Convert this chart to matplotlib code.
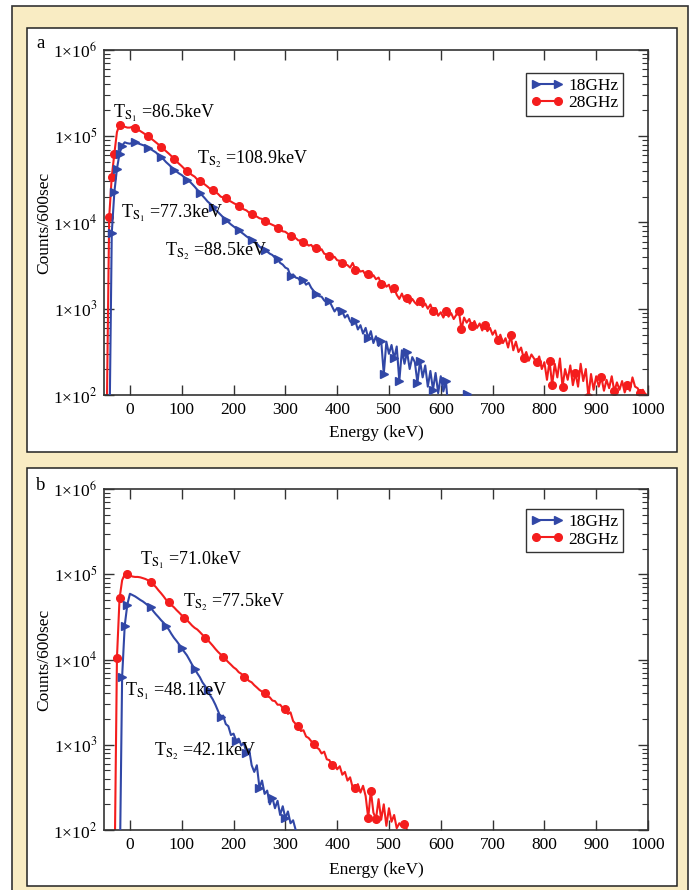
import numpy as np
import matplotlib.pyplot as plt
from matplotlib.patches import Rectangle
from matplotlib.ticker import FixedLocator, FuncFormatter, LogLocator, NullLocator

plt.rcParams['font.family'] = ['Liberation Serif', 'DejaVu Serif']
plt.rcParams['mathtext.fontset'] = 'stix'

BLUE = '#3147a6'
RED = '#f41d1d'
BEIGE = '#f9ecc3'

# panel a: spectra, 5 keV bins
ea_18 = np.arange(-40, 651, 5)
ca_18 = [20, 7.6e3, 2.25e4, 4.2e4, 6.3e4, 7.8e4, 8.5e4, 8.3e4, 8.2e4, 8.4e4,
         8.5e4, 8.3e4, 8.1e4, 7.9e4, 7.7e4, 7.4e4, 7.1e4, 6.8e4, 6.5e4, 6.1e4,
         5.75e4, 5.4e4, 5.0e4, 4.7e4, 4.4e4, 4.1e4, 3.9e4, 3.7e4, 3.55e4, 3.35e4,
         3.15e4, 3.0e4, 2.8e4, 2.6e4, 2.4e4, 2.2e4, 2.05e4, 1.9e4, 1.75e4, 1.65e4,
         1.5e4, 1.4e4, 1.32e4, 1.23e4, 1.15e4, 1.08e4, 1.01e4, 9.5e3, 9.0e3, 8.5e3,
         8.1e3, 7.7e3, 7.3e3, 6.9e3, 6.6e3, 6.2e3, 5.9e3, 5.7e3, 5.25e3, 5.0e3,
         4.8e3, 4.6e3, 4.35e3, 4.2e3, 3.9e3, 3.8e3, 3.4e3, 3.25e3, 3.0e3, 2.9e3,
         2.4e3, 2.5e3, 2.3e3, 2.25e3, 2.05e3, 2.15e3, 1.9e3, 2.0e3, 1.75e3, 1.6e3,
         1.5e3, 1.4e3, 1.38e3, 1.25e3, 1.18e3, 1.23e3, 1.07e3, 930, 1.02e3, 870,
         930, 790, 850, 720, 660, 720, 575, 645, 515, 600,
         455, 550, 400, 480, 370, 425, 175, 415, 300, 380,
         265, 365, 145, 330, 230, 315, 200, 275, 240, 138,
         250, 160, 220, 125, 190, 115, 180, 105, 165, 110,
         145, 63, 40, 30, 30, 30, 30, 30, 102]
ma_18 = sorted(set([1, 2, 3, 4, 5] + list(range(10, 131, 5)) + [106, 112, 119, 138]))

ea_28 = np.arange(-45, 1001, 5)
ca_28 = [40, 1.15e4, 3.4e4, 6.3e4, 1.12e5, 1.35e5, 1.32e5, 1.29e5, 1.26e5, 1.26e5,
         1.29e5, 1.26e5, 1.2e5, 1.15e5, 1.1e5, 1.05e5, 1.0e5, 9.5e4, 9.0e4, 8.5e4,
         8.0e4, 7.6e4, 7.1e4, 6.7e4, 6.3e4, 5.9e4, 5.5e4, 5.1e4, 4.8e4, 4.5e4,
         4.2e4, 4.0e4, 3.75e4, 3.55e4, 3.4e4, 3.15e4, 3.0e4, 2.9e4, 2.75e4, 2.6e4,
         2.45e4, 2.35e4, 2.25e4, 2.15e4, 2.0e4, 1.95e4, 1.9e4, 1.8e4, 1.75e4, 1.68e4,
         1.62e4, 1.55e4, 1.48e4, 1.42e4, 1.38e4, 1.3e4, 1.26e4, 1.2e4, 1.17e4, 1.12e4,
         1.1e4, 1.05e4, 1.02e4, 9.7e3, 9.4e3, 9.1e3, 8.7e3, 8.4e3, 7.9e3, 7.8e3,
         7.4e3, 7.0e3, 6.8e3, 6.6e3, 6.2e3, 6.2e3, 5.9e3, 5.75e3, 5.4e3, 5.5e3,
         5.0e3, 5.0e3, 4.7e3, 4.9e3, 4.35e3, 4.25e3, 4.1e3, 3.9e3, 4.0e3, 3.65e3,
         3.6e3, 3.4e3, 3.3e3, 3.2e3, 3.0e3, 3.4e3, 2.85e3, 2.9e3, 2.7e3, 2.75e3,
         2.45e3, 2.55e3, 2.3e3, 2.45e3, 2.2e3, 2.3e3, 1.95e3, 2.05e3, 1.8e3, 1.9e3,
         1.55e3, 1.75e3, 1.45e3, 1.3e3, 1.5e3, 1.25e3, 1.35e3, 1.15e3, 1.3e3, 1.18e3,
         1.1e3, 1.23e3, 1.05e3, 1.15e3, 1.0e3, 1.12e3, 930, 1.02e3, 830, 910,
         790, 930, 810, 890, 760, 850, 930, 575, 790, 690,
         760, 630, 720, 600, 675, 560, 645, 550, 600, 500,
         560, 435, 500, 400, 455, 355, 490, 330, 415, 315,
         355, 270, 315, 250, 295, 265, 240, 280, 200, 240,
         150, 250, 130, 230, 160, 265, 125, 200, 150, 220,
         130, 180, 125, 230, 145, 200, 95, 175, 115, 165,
         125, 160, 112, 150, 120, 165, 110, 140, 115, 145,
         107, 130, 112, 160, 125, 120, 105, 115, 102, 100]
ma_28 = sorted(set([1, 2, 3, 5] + list(range(11, 210, 5)) + [137, 172, 176, 186]))

# panel b
eb_18 = np.arange(-20, 321, 5)
cb_18 = [20, 6.3e3, 2.5e4, 4.4e4, 5.9e4, 5.7e4, 5.5e4, 5.25e4, 5.0e4, 4.8e4,
         4.55e4, 4.3e4, 4.1e4, 3.7e4, 3.4e4, 3.15e4, 2.9e4, 2.7e4, 2.45e4, 2.25e4,
         2.0e4, 1.8e4, 1.65e4, 1.5e4, 1.35e4, 1.23e4, 1.12e4, 9.9e3, 8.7e3, 7.8e3,
         6.9e3, 6.2e3, 5.4e3, 4.9e3, 4.35e3, 3.8e3, 3.4e3, 2.95e3, 2.5e3, 2.1e3,
         2.2e3, 1.75e3, 1.65e3, 1.3e3, 1.35e3, 1.12e3, 1.18e3, 980, 1.05e3, 790,
         890, 575, 480, 575, 315, 380, 265, 290, 200, 240,
         180, 220, 150, 190, 138, 165, 120, 130, 100]
mb_18 = [1, 2, 3, 12, 18, 24, 29, 34, 39, 45, 49, 54, 59, 64]

eb_28 = np.arange(-30, 536, 5)
cb_28 = [20, 1.05e4, 5.2e4, 8.5e4, 1.0e5, 1.02e5, 9.7e4, 9.4e4, 9.3e4, 9.3e4,
         9.2e4, 9.0e4, 8.8e4, 8.5e4, 8.1e4, 7.6e4, 7.1e4, 6.5e4, 6.0e4, 5.5e4,
         5.0e4, 4.7e4, 4.35e4, 4.1e4, 3.8e4, 3.55e4, 3.3e4, 3.1e4, 2.9e4, 2.7e4,
         2.5e4, 2.35e4, 2.25e4, 2.1e4, 1.95e4, 1.8e4, 1.7e4, 1.57e4, 1.45e4, 1.33e4,
         1.23e4, 1.15e4, 1.07e4, 1.0e4, 9.3e3, 8.7e3, 8.1e3, 7.7e3, 7.1e3, 6.8e3,
         6.3e3, 6.0e3, 5.6e3, 5.4e3, 5.0e3, 4.7e3, 4.4e3, 4.2e3, 4.0e3, 3.7e3,
         3.6e3, 3.3e3, 3.25e3, 2.95e3, 2.95e3, 2.7e3, 2.65e3, 2.3e3, 2.4e3, 1.9e3,
         1.75e3, 1.65e3, 1.45e3, 1.48e3, 1.25e3, 1.2e3, 1.1e3, 1.02e3, 930, 890,
         790, 830, 675, 660, 575, 615, 515, 560, 445, 480,
         380, 415, 315, 310, 345, 275, 330, 250, 138, 290,
         160, 135, 230, 132, 200, 112, 180, 125, 150, 105,
         120, 110, 118, 100]
mb_28 = [1, 2, 5, 14, 21, 27, 35, 42, 50, 58, 66, 71, 77, 84, 93, 98, 99, 101, 112]

# fitted temperatures: (text, energy, counts)
labels_a = [(r'T$_{\mathrm{S}_1}$ =86.5keV', -32, 1.64e5),
            (r'T$_{\mathrm{S}_2}$ =108.9keV', 129, 4.8e4),
            (r'T$_{\mathrm{S}_1}$ =77.3keV', -17, 1.14e4),
            (r'T$_{\mathrm{S}_2}$ =88.5keV', 68, 4.07e3)]
labels_b = [(r'T$_{\mathrm{S}_1}$ =71.0keV', 20, 1.27e5),
            (r'T$_{\mathrm{S}_2}$ =77.5keV', 103, 4.17e4),
            (r'T$_{\mathrm{S}_1}$ =48.1keV', -10, 3.7e3),
            (r'T$_{\mathrm{S}_2}$ =42.1keV', 46, 733)]

W, H = 692, 890
fig = plt.figure(figsize=(W / 100, H / 100), dpi=100)
fig.patch.set_facecolor('white')


def px_rect(x0, y0, x1, y1, **kw):
    return Rectangle((x0 / W, 1 - y1 / H), (x1 - x0) / W, (y1 - y0) / H,
                     transform=fig.transFigure, **kw)


fig.add_artist(px_rect(12, 6, 688, 900, facecolor=BEIGE, edgecolor='#333333', lw=1.2, zorder=0))
fig.add_artist(px_rect(26.5, 28, 676.5, 452.5, facecolor='white', edgecolor='#222222', lw=1.1, zorder=0))
fig.add_artist(px_rect(26.5, 467.5, 676.5, 886, facecolor='white', edgecolor='#222222', lw=1.1, zorder=0))


def draw_panel(ax, e18, c18, m18, e28, c28, m28, labels, legend_y, xlabel_y):
    ax.plot(e18, c18, color=BLUE, lw=1.5, marker='>', ms=6, mec=BLUE, mfc=BLUE,
            markevery=m18, label='18GHz', zorder=3)
    ax.plot(e28, c28, color=RED, lw=1.5, marker='o', ms=5.5, mec=RED, mfc=RED,
            markevery=m28, label='28GHz', zorder=2)
    ax.set_yscale('log')
    ax.set_xlim(-50, 1000)
    ax.set_ylim(1e2, 1e6)
    ax.set_facecolor('none')

    ax.xaxis.set_major_locator(FixedLocator(np.arange(0, 1001, 100)))
    ax.xaxis.set_minor_locator(NullLocator())
    ax.yaxis.set_major_locator(LogLocator(base=10, numticks=10))
    ax.yaxis.set_minor_locator(LogLocator(base=10, subs=np.arange(2, 10), numticks=10))
    ax.yaxis.set_major_formatter(FuncFormatter(lambda v, p: '1×10$^{%d}$' % round(np.log10(v))))
    ax.tick_params(which='both', direction='in', top=True, right=True, labelsize=12.5,
                   color='#333333')
    ax.tick_params(which='major', length=7, width=1.0, pad=5)
    ax.tick_params(which='minor', length=4, width=0.8)
    for s in ax.spines.values():
        s.set_linewidth(1.2)
        s.set_color('#333333')

    ax.set_xlabel('Energy (keV)', fontsize=12.5)
    ax.set_ylabel('Counts/600sec', fontsize=12.5)
    ax.xaxis.set_label_coords(0.5, xlabel_y)
    ax.yaxis.set_label_coords(-0.096, 0.5)

    for txt, x, y in labels:
        ax.text(x, y, txt, fontsize=13, ha='left', va='baseline', zorder=4)

    leg = ax.legend(loc='upper right', bbox_to_anchor=(0.954, legend_y), borderaxespad=0,
                    fontsize=12.5, numpoints=2, handlelength=1.9, handletextpad=0.3,
                    borderpad=0.25, labelspacing=0.1, fancybox=False, framealpha=1,
                    edgecolor='#333333')
    leg.get_frame().set_linewidth(1.0)


ax_a = fig.add_axes([104 / W, 1 - 395 / H, 544 / W, 345 / H])
draw_panel(ax_a, ea_18, ca_18, ma_18, ea_28, ca_28, ma_28, labels_a, 0.933, -0.087)
ax_b = fig.add_axes([104 / W, 1 - 830 / H, 544 / W, 341 / H])
draw_panel(ax_b, eb_18, cb_18, mb_18, eb_28, cb_28, mb_28, labels_b, 0.941, -0.094)

fig.text(41 / W, 1 - 44 / H, 'a', fontsize=13.5, ha='center', va='center')
fig.text(41 / W, 1 - 485 / H, 'b', fontsize=13.5, ha='center', va='center')

fig.savefig('out.png', dpi=100)
